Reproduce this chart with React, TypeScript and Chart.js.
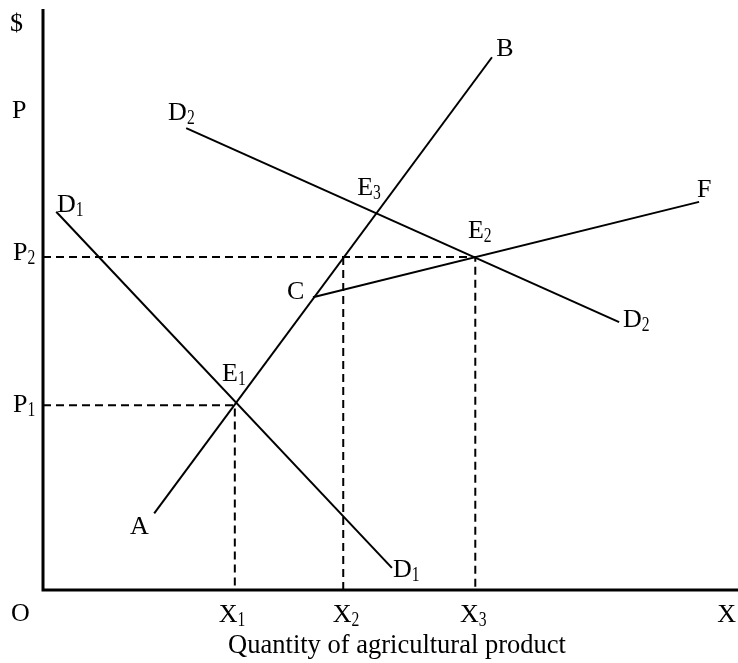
import React, { useEffect, useRef } from "react";
import { Chart, registerables } from "chart.js";

Chart.register(...registerables);

// Curve endpoints (x = quantity units 0..100, y = price units 0..100)
const supplyAB = [
  { x: 16.0, y: 13.2 },
  { x: 64.6, y: 91.7 },
];
const demandD1 = [
  { x: 1.9, y: 65.1 },
  { x: 50.2, y: 3.8 },
];
const demandD2 = [
  { x: 20.6, y: 79.5 },
  { x: 82.9, y: 46.1 },
];
const supplyCF = [
  { x: 38.85, y: 50.4 },
  { x: 94.4, y: 66.8 },
];
// Equilibria / reference quantities
const E1 = { x: 27.6, y: 31.8 };
const E2 = { x: 62.2, y: 57.3 };
const X2 = 43.2;

// Labels: main text, subscript, left x, baseline y (data units)
const labelMain = ["$", "P", "P", "P", "D", "B", "D", "E", "E", "C", "F", "D", "E", "A", "D", "O", "X", "X", "X", "X"];
const labelSub = ["", "", "2", "1", "1", "", "2", "3", "2", "", "", "2", "1", "", "1", "", "1", "2", "3", ""];
const labelX = [-4.75, -4.46, -4.32, -4.32, 2.0, 65.2, 18.0, 45.2, 61.15, 35.1, 94.1, 83.45, 25.76, 12.5, 50.36, -4.6, 25.3, 41.7, 60.0, 97.0];
const labelY = [96.2, 81.2, 56.8, 30.6, 65.06, 91.9, 80.9, 68.0, 60.6, 50.1, 67.6, 45.27, 35.97, 9.64, 2.24, -5.4, -5.5, -5.5, -5.5, -5.5];
const xTitle = "Quantity of agricultural product";

const FONT = '"Liberation Serif", "Times New Roman", serif';

const overlay = {
  id: "econOverlay",
  afterDraw(chart: any) {
    const { ctx, chartArea, scales } = chart;
    const xs = scales.x;
    const ys = scales.y;
    ctx.save();
    // axes
    ctx.strokeStyle = "#000";
    ctx.lineWidth = 3;
    ctx.beginPath();
    ctx.moveTo(chartArea.left, chartArea.top);
    ctx.lineTo(chartArea.left, chartArea.bottom + 1.5);
    ctx.moveTo(chartArea.left - 1.5, chartArea.bottom);
    ctx.lineTo(chart.width, chartArea.bottom);
    ctx.stroke();

    ctx.fillStyle = "#000";
    ctx.textAlign = "left";
    ctx.textBaseline = "alphabetic";
    for (let i = 0; i < labelMain.length; i++) {
      const px = xs.getPixelForValue(labelX[i]);
      const py = ys.getPixelForValue(labelY[i]);
      ctx.font = `26px ${FONT}`;
      ctx.fillText(labelMain[i], px, py);
      const w = ctx.measureText(labelMain[i]).width;
      if (labelSub[i]) {
        ctx.save();
        ctx.translate(px + w, py + 4);
        ctx.scale(0.78, 1);
        ctx.font = `20px ${FONT}`;
        ctx.fillText(labelSub[i], 0, 0);
        ctx.restore();
      }
    }
    ctx.font = `26.5px ${FONT}`;
    ctx.textAlign = "center";
    ctx.fillText(xTitle, 397, chartArea.bottom + 63);
    ctx.restore();
  },
};

export default function App() {
  const ref = useRef<HTMLCanvasElement | null>(null);
  useEffect(() => {
    if (!ref.current) return;
    const solid = { borderColor: "#000", borderWidth: 2, pointRadius: 0, fill: false, tension: 0 };
    const dashed = { ...solid, borderDash: [8, 5] };
    const chart = new Chart(ref.current, {
      type: "line",
      data: {
        datasets: [
          { ...solid, data: supplyAB },
          { ...solid, data: demandD1 },
          { ...solid, data: demandD2 },
          { ...solid, data: supplyCF },
          { ...dashed, data: [{ x: 0, y: E1.y }, { x: E1.x, y: E1.y }, { x: E1.x, y: 0 }] },
          { ...dashed, data: [{ x: 0, y: E2.y }, { x: E2.x, y: E2.y }, { x: E2.x, y: 0 }] },
          { ...dashed, data: [{ x: X2, y: E2.y }, { x: X2, y: 0 }] },
        ],
      },
      options: {
        animation: false,
        responsive: true,
        maintainAspectRatio: false,
        layout: { padding: { left: 43, top: 9, right: 0, bottom: 73 } },
        scales: {
          x: { type: "linear", min: 0, max: 100, display: false },
          y: { type: "linear", min: 0, max: 100, display: false },
        },
        plugins: { legend: { display: false }, tooltip: { enabled: false } },
        events: [],
      },
      plugins: [overlay],
    });
    return () => chart.destroy();
  }, []);
  return (
    <div style={{ position: "absolute", left: 0, top: 0, width: 738, height: 663, background: "#fff" }}>
      <canvas ref={ref} />
    </div>
  );
}
